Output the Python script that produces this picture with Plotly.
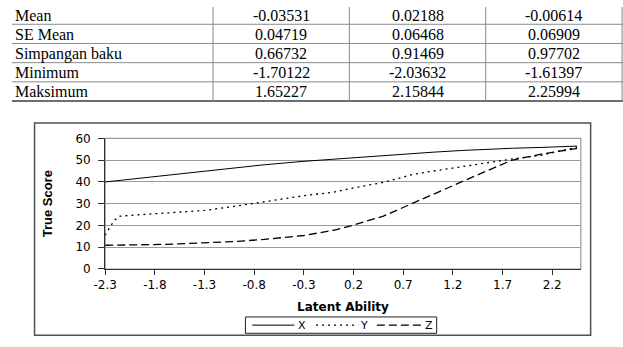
import plotly.graph_objects as go

W, H = 623, 347

# ---------------- table data ----------------
row_labels = ["Mean", "SE Mean", "Simpangan baku", "Minimum", "Maksimum"]
col_1 = ["-0.03531", "0.04719", "0.66732", "-1.70122", "1.65227"]
col_2 = ["0.02188", "0.06468", "0.91469", "-2.03632", "2.15844"]
col_3 = ["-0.00614", "0.06909", "0.97702", "-1.61397", "2.25994"]

# ---------------- chart data ----------------
series_names = ["X", "Y", "Z"]
ability = [-2.3, -2.25, -2.2, -2.15, -2.0, -1.7, -1.3, -1.0, -0.7, -0.3,
           0.0, 0.2, 0.5, 0.8, 1.0, 1.3, 1.5, 1.8, 2.1, 2.45]
score_x = [40.0, 40.25, 40.5, 40.75, 41.5, 43.0, 45.0, 46.5, 47.9, 49.5,
           50.5, 51.2, 52.2, 53.1, 53.7, 54.5, 55.0, 55.5, 55.9, 56.5]
score_y = [15.5, 19.5, 22.6, 24.3, 24.8, 25.6, 26.9, 28.8, 31.0, 33.7,
           35.3, 37.3, 39.8, 43.5, 45.0, 47.2, 48.6, 50.6, 52.4, 56.0]
score_z = [10.9, 10.9, 11.0, 11.0, 11.1, 11.3, 12.0, 12.6, 13.6, 15.4,
           17.8, 20.2, 24.3, 30.4, 34.5, 40.3, 44.3, 50.1, 52.9, 55.4]
x_ticks = [-2.3, -1.8, -1.3, -0.8, -0.3, 0.2, 0.7, 1.2, 1.7, 2.2]
x_tick_text = ["-2.3", "-1.8", "-1.3", "-0.8", "-0.3", "0.2", "0.7", "1.2", "1.7", "2.2"]


def px(x):
    return x / W


def py(y):
    return 1 - y / H


styles = [dict(color="#000000", width=1),
          dict(color="#000000", width=1.3, dash="2px,4px"),
          dict(color="#000000", width=1.3, dash="8px,4px")]

fig = go.Figure()
for name, vals, st in zip(series_names, [score_x, score_y, score_z], styles):
    fig.add_trace(go.Scatter(x=ability, y=vals, name=name, mode="lines",
                             line=st, showlegend=False))

shapes = []
annotations = []

# table text
serif = dict(family="Liberation Serif, Times New Roman, serif", size=16, color="#000")
row_edges = [-2, 18, 38, 58, 78, 98]
col_edges = [0, 205, 344, 483, 622]
for i, lab in enumerate(row_labels):
    yc = (row_edges[i] + row_edges[i + 1]) / 2 + 0.5
    annotations.append(dict(x=px(1), y=py(yc), xref="paper", yref="paper", text=lab,
                            showarrow=False, xanchor="left", yanchor="middle", font=serif))
    for j, col in enumerate([col_1, col_2, col_3]):
        xc = (col_edges[j + 1] + col_edges[j + 2]) / 2
        annotations.append(dict(x=px(xc), y=py(yc), xref="paper", yref="paper", text=col[i],
                                showarrow=False, xanchor="center", yanchor="middle", font=serif))
# table grid lines
for k, ye in enumerate(row_edges[1:]):
    last = k == len(row_edges) - 2
    shapes.append(dict(type="line", xref="paper", yref="paper", x0=0, x1=px(623),
                       y0=py(ye), y1=py(ye),
                       line=dict(color="#6e6e6e" if last else "#8a8a8a", width=2 if last else 1)))
for xe in col_edges[1:]:
    shapes.append(dict(type="line", xref="paper", yref="paper", x0=px(xe), x1=px(xe),
                       y0=py(0), y1=py(98), line=dict(color="#8a8a8a", width=1)))

# chart frame
shapes.append(dict(type="rect", xref="paper", yref="paper", x0=px(23), x1=px(590),
                   y0=py(342), y1=py(121), line=dict(color="#505050", width=1.5), layer="below"))
# plot area border
shapes.append(dict(type="rect", xref="x domain", yref="y domain", x0=0, x1=1, y0=0, y1=1,
                   line=dict(color="#9a9a9a", width=1.2), layer="below"))

# legend (drawn box with line samples and labels)
shapes.append(dict(type="rect", xref="paper", yref="paper", x0=px(238), x1=px(433),
                   y0=py(340), y1=py(323), line=dict(color="#202020", width=1),
                   fillcolor="white"))
leg_y = 331.5
sample_spans = [(245, 288), (310, 353), (372, 417)]
label_x = [296, 359, 425]
for name, st, (a, b), lx in zip(series_names, styles, sample_spans, label_x):
    shapes.append(dict(type="line", xref="paper", yref="paper", x0=px(a), x1=px(b),
                       y0=py(leg_y), y1=py(leg_y), line=st))
    annotations.append(dict(x=px(lx), y=py(leg_y), xref="paper", yref="paper", text=name,
                            showarrow=False, xanchor="center", yanchor="middle",
                            font=dict(family="DejaVu Sans", size=11, color="#000")))

fig.update_layout(
    width=W, height=H,
    margin=dict(l=0, r=0, t=0, b=0),
    paper_bgcolor="white", plot_bgcolor="white",
    shapes=shapes, annotations=annotations,
    showlegend=False,
    xaxis=dict(domain=[px(95), px(580)], range=[-2.3, 2.488],
               tickvals=x_ticks, ticktext=x_tick_text,
               showline=True, linecolor="#303030", linewidth=1.2,
               ticks="outside", ticklen=5, tickcolor="#303030", tickwidth=1,
               showgrid=False, zeroline=False,
               tickfont=dict(family="DejaVu Sans", size=12, color="#000"),
               title=dict(text="Latent Ability", standoff=11,
                          font=dict(family="DejaVu Sans", size=12, color="#000", weight="bold"))),
    yaxis=dict(domain=[py(273), py(137)], range=[0, 60], dtick=10,
               showline=True, linecolor="#303030", linewidth=1.2,
               ticks="outside", ticklen=6, tickcolor="#303030", tickwidth=1,
               showgrid=True, gridcolor="#9a9a9a", gridwidth=1.2, zeroline=False,
               ticklabelstandoff=5,
               tickfont=dict(family="DejaVu Sans", size=12, color="#000"),
               title=dict(text="True Score", standoff=19,
                          font=dict(family="Liberation Sans Narrow, Arial Narrow, Liberation Sans",
                                    size=13, color="#000", weight="bold"))),
)

fig.write_html("out.html")
